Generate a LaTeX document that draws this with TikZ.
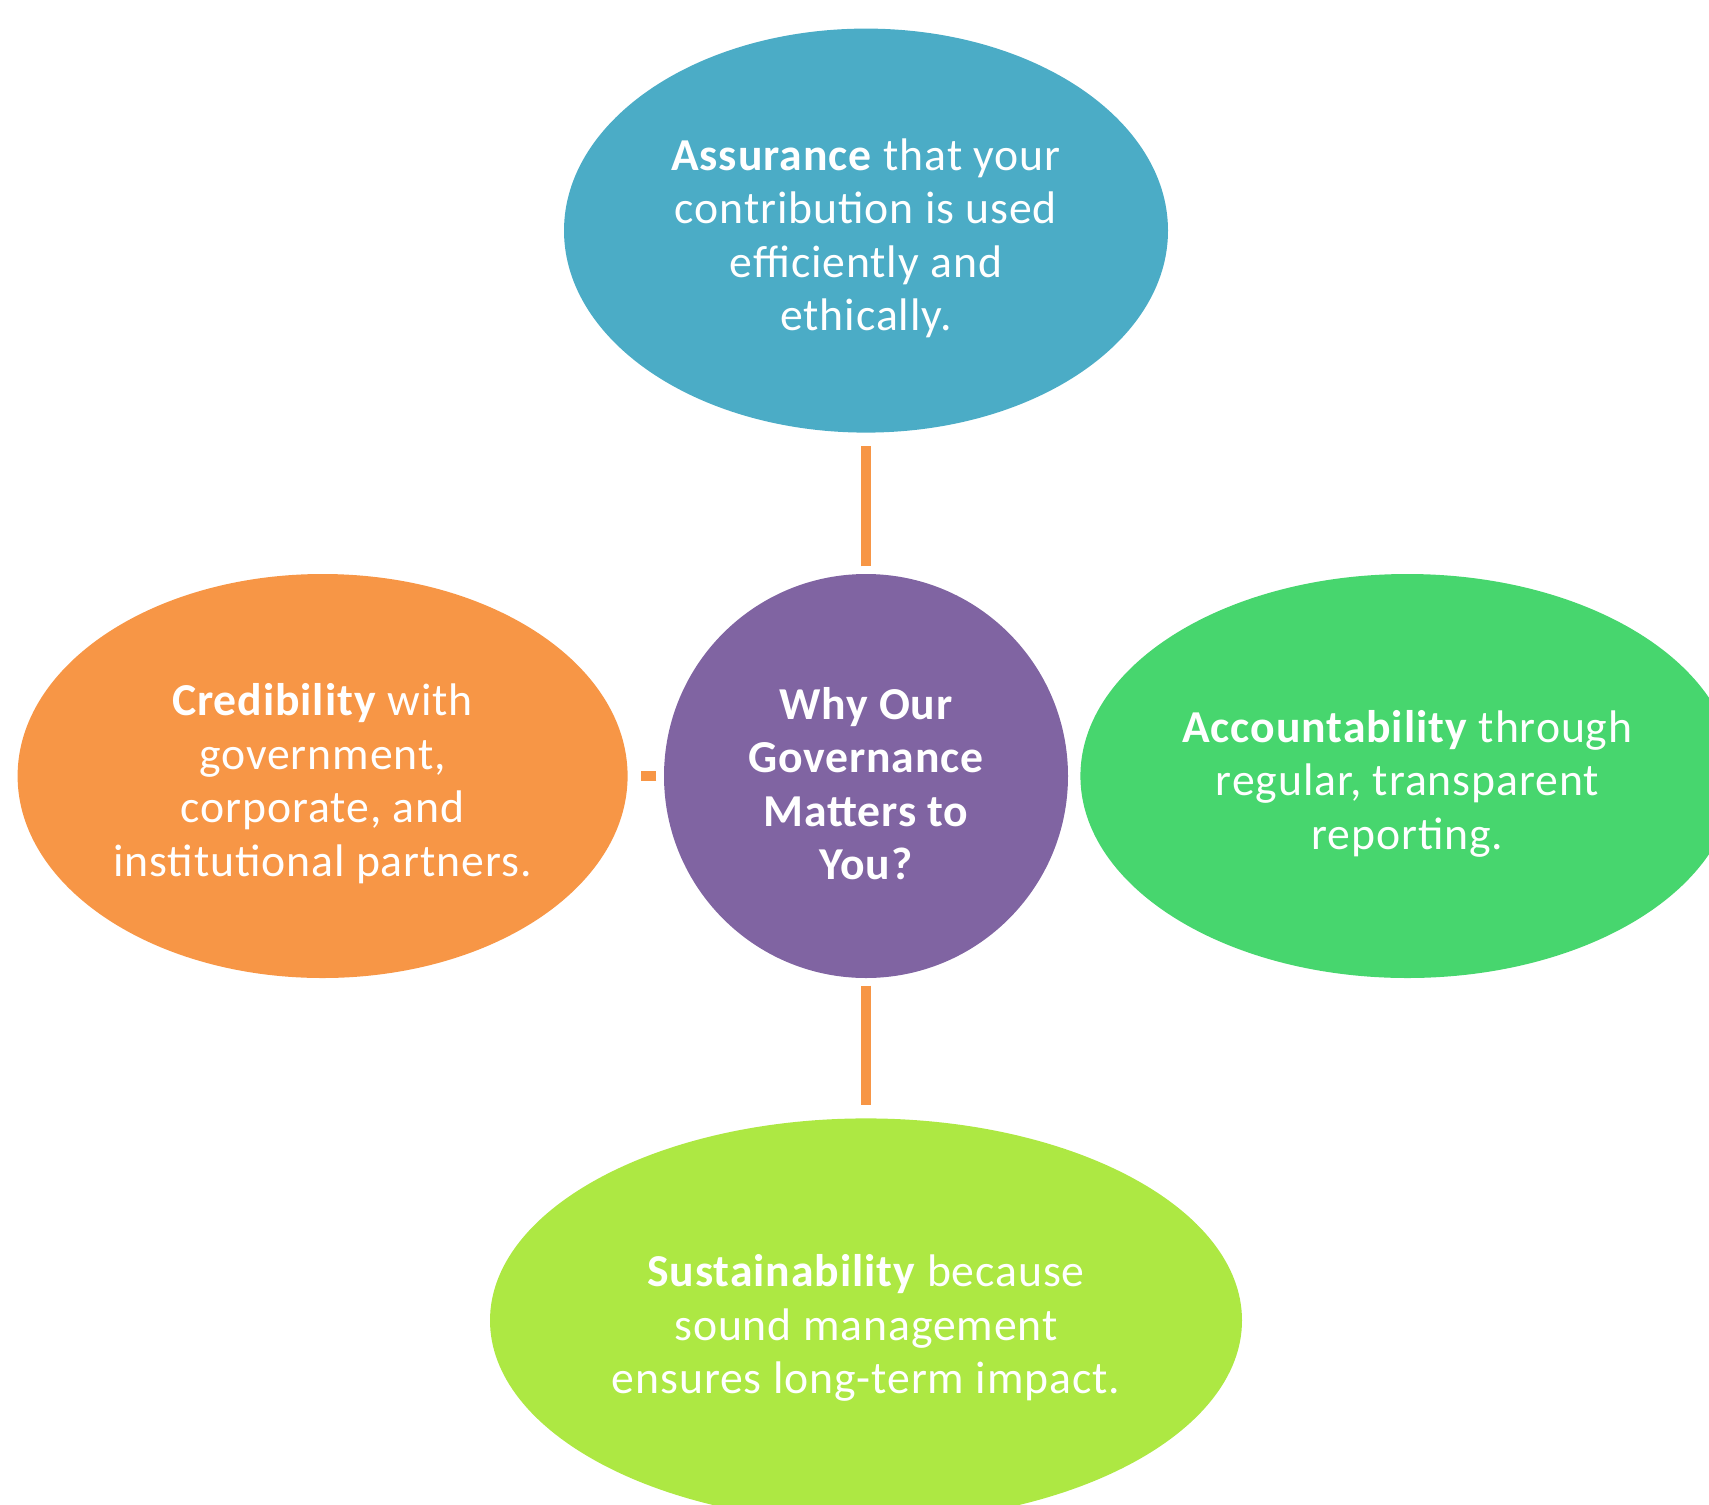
\documentclass[tikz,border=0pt]{standalone}
\usepackage{fontspec}
\setmainfont[LetterSpace=2]{Carlito}
\usetikzlibrary{positioning,shapes.geometric}
\definecolor{hubpurple}{HTML}{8064A2}
\definecolor{assureblue}{HTML}{4BACC6}
\definecolor{credorange}{HTML}{F79646}
\definecolor{accgreen}{HTML}{47D66E}
\definecolor{sustlime}{HTML}{ADE843}
\definecolor{linkorange}{HTML}{F79646}
\newcommand{\toppad}{\rule{0pt}{13.5pt}}
\newcommand{\petaltext}[2]{\toppad\textbf{#1} #2}
\begin{document}
\begin{tikzpicture}[
      every node/.style={inner sep=0pt,align=center,text=white,font=\fontsize{13}{15.2}\selectfont},
      petal/.style={ellipse,minimum height=4.04cm},
      link/.style={draw=linkorange,line width=2.6pt,shorten <=0.07cm,shorten >=0.13cm}
    ]
      \useasboundingbox (0,0) rectangle (17.09,-15.04);
      \node[circle,fill=hubpurple,minimum size=4.04cm,font=\fontsize{13}{15.2}\selectfont\bfseries] (hub) at (8.66,-7.76)
        {\toppad Why Our\\Governance\\Matters to\\You?};
      \node[petal,fill=assureblue,minimum width=6.04cm,above=1.4cm of hub] (assure)
        {\petaltext{Assurance}{that your}\\contribution is used\\efficiently and\\ethically.};
      \node[petal,fill=credorange,minimum width=6.1cm,left=0.35cm of hub] (cred)
        {\petaltext{Credibility}{with}\\government,\\corporate, and\\institutional partners.};
      \node[petal,fill=accgreen,minimum width=6.54cm,right=0.11cm of hub] (acc)
        {\petaltext{Accountability}{through}\\regular, transparent\\reporting.};
      \node[petal,fill=sustlime,minimum width=7.52cm,below=1.39cm of hub] (sust)
        {\petaltext{Sustainability}{because}\\sound management\\ensures long-term impact.};
      \draw[link] (hub) -- (assure);
      \draw[link] (hub) -- (cred);
      \draw[link] (hub) -- (sust);
    \end{tikzpicture}
\end{document}
